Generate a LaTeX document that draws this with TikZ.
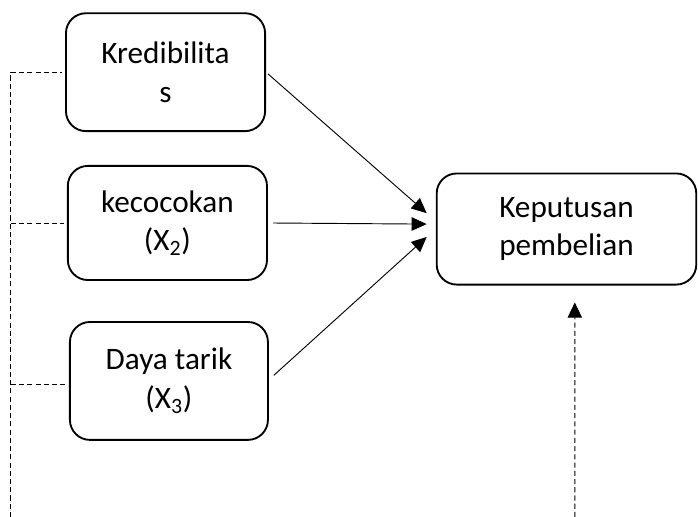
\documentclass[tikz,border=0pt]{standalone}
\usepackage{fontspec}
\setmainfont{Carlito}
\usetikzlibrary{arrows.meta}

\tikzset{
	kotak/.style={draw, rounded corners=0.53cm, line width=1.4pt, align=center,
		inner sep=0pt, font=\fontsize{23.5}{29}\selectfont},
	panah/.style={line width=0.7pt, -{Triangle[length=0.4cm, width=0.36cm]}},
	putus/.style={line width=0.7pt, dash pattern=on 3.8pt off 2.4pt}
}

\begin{document}
\begin{tikzpicture}
	\useasboundingbox (0,0) rectangle (18.47,-13.68);
	\node[kotak, minimum width=5.27cm, minimum height=3.12cm] (kred) at (4.38,-1.91) {Kredibilita\\s};
	\node[kotak, minimum width=5.27cm, minimum height=3.02cm] (kec) at (4.43,-5.90) {kecocokan\\(X\textsubscript{2})};
	\node[kotak, minimum width=5.24cm, minimum height=3.12cm] (daya) at (4.47,-10.08) {Daya tarik\\(X\textsubscript{3})};
	\node[kotak, minimum width=6.87cm, minimum height=2.94cm] (kep) at (14.99,-6.06) {Keputusan\\pembelian};

	% pengaruh parsial
	\draw[panah, shorten <=2pt] (kred.east) -- ([xshift=-0.24cm, yshift=0.42cm]kep.west);
	\draw[panah, shorten <=4pt] (kec.east) -- ([xshift=-0.24cm, yshift=0.13cm]kep.west);
	\draw[panah, shorten <=5pt] ([yshift=0.03cm]daya.east) -- ([xshift=-0.24cm, yshift=-0.21cm]kep.west);

	% pengaruh simultan
	\coordinate (kiri) at (0.29,-13.68);
	\coordinate (bawah) at (15.21,-13.68);
	\draw[putus, shorten >=2pt] (kiri) |- (kred.west);
	\draw[putus, shorten >=2pt] (kiri |- kec.west) -- (kec.west);
	\draw[putus, shorten >=2pt] ([yshift=-0.1cm]kiri |- daya.west) -- ([yshift=-0.1cm]daya.west);
	\draw[putus, -{Triangle[length=0.4cm, width=0.38cm]}] (bawah) -- ([xshift=0.22cm, yshift=-0.45cm]kep.south);
\end{tikzpicture}
\end{document}
